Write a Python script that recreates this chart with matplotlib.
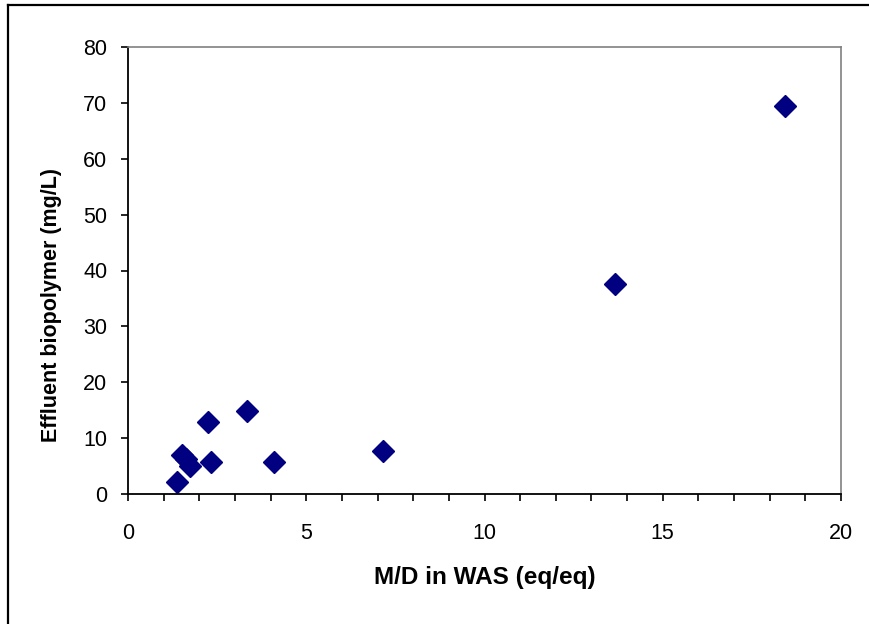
import matplotlib
matplotlib.use("Agg")
import matplotlib.pyplot as plt
from matplotlib.ticker import MultipleLocator
from matplotlib.lines import Line2D

plt.rcParams['font.family'] = ['Liberation Sans', 'DejaVu Sans']

md_ratio = [1.37, 1.52, 1.62, 1.75, 2.25, 2.32, 3.33, 4.10, 7.14, 13.66, 18.43]
biopolymer = [2.2, 7.0, 6.2, 5.0, 12.9, 5.7, 14.8, 5.7, 7.7, 37.6, 69.4]

xlabel = "M/D in WAS (eq/eq)"
ylabel = "Effluent biopolymer (mg/L)"

fig = plt.figure(figsize=(8.70, 6.24), dpi=100)
ax = fig.add_axes([128/870, 1-494/624, 713/870, 447/624])

ax.plot(md_ratio, biopolymer, linestyle='none', marker='D', markersize=11,
        color='#000080', markeredgecolor='#000080')

ax.set_xlim(0, 20)
ax.set_ylim(0, 80)
ax.xaxis.set_major_locator(MultipleLocator(5))
ax.xaxis.set_minor_locator(MultipleLocator(1))
ax.yaxis.set_major_locator(MultipleLocator(10))

ax.tick_params(axis='both', which='major', direction='out', length=5, width=1.2,
               labelsize=15.5, color='black')
ax.tick_params(axis='x', which='minor', direction='out', length=5, width=1.2)
ax.tick_params(axis='x', pad=16)
ax.tick_params(axis='y', pad=10)

for s in ['left', 'bottom']:
    ax.spines[s].set_color('black')
    ax.spines[s].set_linewidth(1.3)
for s in ['top', 'right']:
    ax.spines[s].set_color('#808080')
    ax.spines[s].set_linewidth(1.2)

ax.set_xlabel(xlabel, fontsize=17.5, fontweight='bold', labelpad=16)
ax.set_ylabel(ylabel, fontsize=15.5, fontweight='bold')
ax.yaxis.set_label_coords(-0.092, 0.423)

# outer frame (left and top visible)
fig.add_artist(Line2D([8/870, 8/870], [0, 1-5/624], transform=fig.transFigure,
                      color='black', linewidth=1.6))
fig.add_artist(Line2D([8/870, 1], [1-5/624, 1-5/624], transform=fig.transFigure,
                      color='black', linewidth=1.6))

fig.savefig("out.png", dpi=100)
